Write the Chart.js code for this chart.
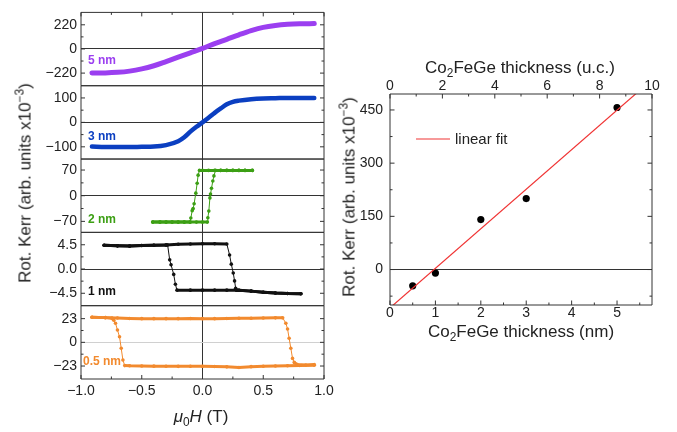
<!DOCTYPE html>
<html>
<head>
<meta charset="utf-8">
<script src="https://cdn.jsdelivr.net/npm/chart.js@4.4.1/dist/chart.umd.min.js"></script>
<style>
  body { margin: 0; background: #fff; }
  #fig { position: relative; width: 677px; height: 432px; font-family: 'Liberation Sans', Arial, sans-serif; color: #222; overflow: hidden; }
  canvas { position: absolute; top: 0; }
  #left { left: 0; }
  #right { left: 340px; }
  .lbl { position: absolute; white-space: nowrap; line-height: 1; transform: translate(-50%, -50%); }
  .vert { transform: translate(-50%, -50%) rotate(-90deg); }
  .title { font-size: 17px; }
  .tag { position: absolute; white-space: nowrap; line-height: 1; font-size: 12px; font-weight: bold; transform: translate(0, -50%); }
  sub, sup { font-size: 70%; line-height: 0; }
</style>
</head>
<body>
<div id="fig">
  <canvas id="left" width="340" height="432"></canvas>
  <canvas id="right" width="337" height="432"></canvas>

  <div class="lbl title vert" style="left:25px; top:183px">Rot. Kerr (arb. units x10<sup>−3</sup>)</div>
  <div class="lbl title" style="left:201px; top:416px"><i>μ</i><sub>0</sub><i>H</i> (T)</div>
  <div class="tag" style="left:88px; top:60px; color:#9b3ff0">5 nm</div>
  <div class="tag" style="left:88px; top:136px; color:#0b3fc1">3 nm</div>
  <div class="tag" style="left:88px; top:219px; color:#3c9f14">2 nm</div>
  <div class="tag" style="left:88px; top:291px; color:#111">1 nm</div>
  <div class="tag" style="left:83px; top:361px; color:#f28a2e">0.5 nm</div>

  <div class="lbl title vert" style="left:349px; top:197px">Rot. Kerr (arb. units x10<sup>−3</sup>)</div>
  <div class="lbl title" style="left:520px; top:67px">Co<sub>2</sub>FeGe thickness (u.c.)</div>
  <div class="lbl title" style="left:521px; top:331px">Co<sub>2</sub>FeGe thickness (nm)</div>
</div>

<script>
// Hysteresis loops, field in tesla, Kerr rotation in 1e-3 arb. units
const field5 = [-0.91, -0.8, -0.7, -0.6, -0.5, -0.4, -0.3, -0.2, -0.1, 0, 0.1, 0.2, 0.3, 0.4, 0.5, 0.6, 0.7, 0.8, 0.92]
const kerr5 = [-219, -218, -213, -202, -182, -153, -115, -75, -35, 5, 48, 88, 129, 167, 197, 214, 224, 229, 231]

const field3 = [-0.91, -0.8, -0.7, -0.6, -0.5, -0.4, -0.3, -0.2, -0.15, -0.1, -0.05, 0, 0.05, 0.1, 0.15, 0.2, 0.25, 0.3, 0.4, 0.5, 0.6, 0.7, 0.8, 0.92]
const kerr3 = [-99, -101, -101, -101, -100, -99, -93, -77, -61, -38, -18, 0, 19, 39, 57, 74, 84, 89, 95, 98, 99, 100, 100, 100]

const field2Down = [0.41, 0.35, 0.3, 0.25, 0.2, 0.15, 0.1, 0.05, 0, -0.025, -0.036, -0.044, -0.055, -0.069, -0.077, -0.085, -0.096, -0.104, -0.15, -0.2, -0.25, -0.3, -0.35, -0.41]
const kerr2Down = [69, 69, 69, 69, 69, 69, 69, 69, 69, 69, 56, 34, 7, -22, -35, -41, -61, -72, -72, -72, -72, -72, -72, -72]
const field2Up = [-0.41, -0.35, -0.3, -0.25, -0.2, -0.15, -0.1, -0.05, 0, 0.04, 0.044, 0.052, 0.061, 0.066, 0.074, 0.085, 0.094, 0.107, 0.15, 0.2, 0.25, 0.3, 0.35, 0.41]
const kerr2Up = [-72, -72, -72, -72, -72, -72, -72, -72, -72, -72, -60, -42, -6, 4.5, 20, 40, 54, 69, 69, 69, 69, 69, 69, 69]

const field1Up = [-0.81, -0.7, -0.6, -0.5, -0.4, -0.3, -0.2, -0.1, 0, 0.1, 0.2, 0.223, 0.237, 0.253, 0.264, 0.273, 0.28, 0.3, 0.4, 0.5, 0.6, 0.7, 0.81]
const kerr1Up = [4.4, 4.3, 4.25, 4.35, 4.4, 4.45, 4.6, 4.65, 4.7, 4.7, 4.65, 2.6, 0.9, -0.73, -2.2, -3.56, -3.95, -3.95, -4.1, -4.3, -4.45, -4.55, -4.6]
const field1Down = [0.81, 0.7, 0.6, 0.5, 0.4, 0.3, 0.2, 0.1, 0, -0.1, -0.21, -0.223, -0.237, -0.259, -0.27, -0.287, -0.3, -0.4, -0.5, -0.6, -0.7, -0.81]
const kerr1Down = [-4.6, -4.55, -4.45, -4.3, -4.1, -3.95, -3.92, -3.92, -3.92, -3.92, -3.92, -2.83, -1.0, 0.8, 1.7, 4.45, 4.45, 4.4, 4.35, 4.25, 4.3, 4.4]

const field05Up = [-0.91, -0.8, -0.7, -0.6, -0.5, -0.4, -0.3, -0.2, -0.1, 0, 0.1, 0.2, 0.3, 0.4, 0.5, 0.6, 0.66, 0.686, 0.7, 0.713, 0.727, 0.741, 0.755, 0.78, 0.85, 0.92]
const kerr05Up = [24.4, 24.0, 23.6, 23.2, 23.0, 23.0, 23.0, 23.0, 23.2, 23.0, 23.0, 23.2, 23.4, 23.4, 23.6, 23.8, 23.8, 18.5, 13, 3.9, -5.8, -15.6, -19.5, -21.5, -22.0, -21.5]
const field05Down = [0.92, 0.8, 0.7, 0.6, 0.5, 0.4, 0.3, 0.2, 0.1, 0, -0.1, -0.2, -0.3, -0.4, -0.5, -0.6, -0.64, -0.655, -0.669, -0.683, -0.7, -0.716, -0.73, -0.745, -0.8, -0.91]
const kerr05Down = [-22.3, -22.5, -22.8, -23.0, -23.2, -23.6, -24.5, -23.8, -23.4, -23.2, -23.2, -23.3, -23.2, -23.1, -23.0, -22.8, -22.6, -17.2, -5.8, 5.5, 12, 18.5, 21.5, 23.5, 24.0, 24.4]

// Saturation Kerr rotation vs film thickness
const thicknessNm = [0.5, 1, 2, 3, 5]
const kerrSat = [-46, -10, 141, 200, 457]

// Major tick values of each axis
const ticks5 = [-220, 0, 220]
const ticks3 = [-100, 0, 100]
const ticks2 = [-70, 0, 70]
const ticks1 = [-4.5, 0, 4.5]
const ticks05 = [-23, 0, 23]
const fieldTicks = [-1, -0.5, 0, 0.5, 1]
const nmTicks = [0, 1, 2, 3, 4, 5]
const ucTicks = [0, 2, 4, 6, 8, 10]
const kerrTicks = [0, 150, 300, 450]

Chart.defaults.font.family = "'Liberation Sans', Arial, sans-serif"
Chart.defaults.font.size = 14
Chart.defaults.color = '#222'

const pts = (xs, ys) => xs.map((x, i) => ({ x: x, y: ys[i] }))
const fmt = dec => v => (v < 0 ? '\u2212' : '') + Math.abs(v).toFixed(dec)

// majors plus half-step minors, skipping minors that would sit on the frame
function tickSet(majors, min, max) {
  const half = (majors[1] - majors[0]) / 2
  const margin = (max - min) * 0.04
  const out = []
  for (let v = majors[0] - half; v <= max; v += half) {
    const value = Math.round(v * 1e4) / 1e4
    const major = majors.some(m => Math.abs(m - value) < 1e-6)
    if (major || (value > min + margin && value < max - margin)) out.push({ value: value, major: major })
  }
  return out
}

// Inward tick marks on every side, plus the frame of each panel
const frameTicks = {
  id: 'frameTicks',
  afterDatasetsDraw(chart, args, opts) {
    const { ctx, chartArea: a } = chart
    const scales = Object.values(chart.scales)
    const hasTop = scales.some(s => s.position === 'top')
    ctx.save()
    ctx.strokeStyle = opts.color
    ctx.lineWidth = 1
    ctx.beginPath()
    const seg = (x0, y0, x1, y1) => { ctx.moveTo(x0, y0); ctx.lineTo(x1, y1) }
    scales.forEach(s => {
      s.ticks.forEach(t => {
        const len = t.major ? opts.major : opts.minor
        const p = s.getPixelForValue(t.value)
        if (s.isHorizontal()) {
          if (s.position === 'top') {
            seg(p, a.top, p, a.top + len)
          } else {
            seg(p, a.bottom, p, a.bottom - len)
            if (!hasTop) seg(p, a.top, p, a.top + len)
          }
        } else {
          seg(a.left, p, a.left + len, p)
          seg(a.right, p, a.right - len, p)
        }
      })
      if (!s.isHorizontal()) ctx.rect(a.left, s.top, a.right - a.left, s.bottom - s.top)
    })
    ctx.stroke()
    ctx.restore()
  }
}

// Small legend drawn inside the plot area
const innerLegend = {
  id: 'innerLegend',
  afterDatasetsDraw(chart, args, opts) {
    const { ctx, chartArea: a } = chart
    chart.data.datasets.filter(d => d.inLegend).forEach(d => {
      const x = a.left + opts.x
      const y = a.top + opts.y
      ctx.save()
      ctx.strokeStyle = d.borderColor
      ctx.lineWidth = d.borderWidth
      ctx.beginPath()
      ctx.moveTo(x, y)
      ctx.lineTo(x + opts.lineLen, y)
      ctx.stroke()
      ctx.fillStyle = '#222'
      ctx.font = opts.font
      ctx.textBaseline = 'middle'
      ctx.fillText(d.label, x + opts.lineLen + opts.gap, y + 1)
      ctx.restore()
    })
  }
}

function yPanel(weight, majors, min, max, dec, zeroColor) {
  return {
    type: 'linear', position: 'left', stack: 'kerr', stackWeight: 1, weight: weight,
    min: min, max: max,
    afterBuildTicks: s => { s.ticks = tickSet(majors, min, max) },
    afterFit: s => { s.width = 81 },
    ticks: { autoSkip: false, padding: 4, callback: (v, i, t) => t[i].major ? fmt(dec)(v) : '' },
    grid: { drawTicks: false, color: c => c.tick && c.tick.value === 0 ? zeroColor : 'transparent' },
    border: { display: false }
  }
}

function smooth(color, width) {
  return { borderColor: color, backgroundColor: color, borderWidth: width, pointRadius: 0,
    borderCapStyle: 'round', cubicInterpolationMode: 'monotone', showLine: true }
}

function loop(color, kerr) {
  const amp = Math.max(...kerr) - Math.min(...kerr)
  return { borderColor: color, backgroundColor: color, borderWidth: 1, pointRadius: 1.8, pointBorderWidth: 0,
    showLine: true,
    segment: { borderWidth: c => Math.abs(c.p1.parsed.y - c.p0.parsed.y) < 0.06 * amp ? 3 : 1 } }
}

new Chart(document.getElementById('left'), {
  type: 'scatter',
  plugins: [frameTicks],
  data: {
    datasets: [
      { data: pts(field5, kerr5), yAxisID: 'y5', ...smooth('#9b3ff0', 5) },
      { data: pts(field3, kerr3), yAxisID: 'y3', ...smooth('#0b3fc1', 4.5) },
      { data: pts(field2Down, kerr2Down), yAxisID: 'y2', ...loop('#3c9f14', kerr2Down) },
      { data: pts(field2Up, kerr2Up), yAxisID: 'y2', ...loop('#3c9f14', kerr2Up) },
      { data: pts(field1Up, kerr1Up), yAxisID: 'y1', ...loop('#111111', kerr1Up) },
      { data: pts(field1Down, kerr1Down), yAxisID: 'y1', ...loop('#111111', kerr1Down) },
      { data: pts(field05Up, kerr05Up), yAxisID: 'y05', ...loop('#f28a2e', kerr05Up) },
      { data: pts(field05Down, kerr05Down), yAxisID: 'y05', ...loop('#f28a2e', kerr05Down) }
    ]
  },
  options: {
    responsive: false,
    animation: false,
    events: [],
    layout: { padding: { left: 0, right: 16, top: 8, bottom: 0 } },
    plugins: { legend: { display: false }, tooltip: { enabled: false },
      frameTicks: { color: '#333', major: 4, minor: 2.5 } },
    scales: {
      x: {
        type: 'linear', position: 'bottom', min: -1, max: 1,
        afterBuildTicks: s => { s.ticks = tickSet(fieldTicks, -1, 1) },
        afterFit: s => { s.height = 53 },
        ticks: { autoSkip: false, padding: 4, maxRotation: 0, callback: (v, i, t) => t[i].major ? fmt(1)(v) : '' },
        grid: { drawTicks: false, color: c => c.tick && c.tick.value === 0 ? '#333' : 'transparent' },
        border: { display: false }
      },
      y05: yPanel(1, ticks05, -35.6, 35.6, 0, '#d0d0d0'),
      y1: yPanel(2, ticks1, -6.8, 6.8, 1, '#333'),
      y2: yPanel(3, ticks2, -100, 100, 0, '#333'),
      y3: yPanel(4, ticks3, -150, 150, 0, '#333'),
      y5: yPanel(5, ticks5, -335, 333, 0, '#333')
    }
  }
})

// least-squares line through the saturation values
const n = thicknessNm.length
const mx = thicknessNm.reduce((s, v) => s + v, 0) / n
const my = kerrSat.reduce((s, v) => s + v, 0) / n
const slope = thicknessNm.reduce((s, v, i) => s + (v - mx) * (kerrSat[i] - my), 0) /
  thicknessNm.reduce((s, v) => s + (v - mx) * (v - mx), 0)
const intercept = my - slope * mx
const nmMax = 5.77

new Chart(document.getElementById('right'), {
  type: 'scatter',
  plugins: [frameTicks, innerLegend],
  data: {
    datasets: [
      { label: 'linear fit', inLegend: true, showLine: true, clip: 0,
        data: [0, nmMax].map(x => ({ x: x, y: slope * x + intercept })),
        borderColor: '#f03434', borderWidth: 1.2, pointRadius: 0 },
      { label: 'data', data: pts(thicknessNm, kerrSat), backgroundColor: '#000', borderWidth: 0, pointRadius: 3.6 }
    ]
  },
  options: {
    responsive: false,
    animation: false,
    events: [],
    layout: { padding: { left: 0, right: 25, top: 0, bottom: 0 } },
    plugins: { legend: { display: false }, tooltip: { enabled: false },
      frameTicks: { color: '#333', major: 4.5, minor: 2.5 },
      innerLegend: { x: 26, y: 45, lineLen: 34, gap: 5, font: "15px 'Liberation Sans', Arial, sans-serif" } },
    scales: {
      x: {
        type: 'linear', position: 'bottom', min: 0, max: nmMax,
        afterBuildTicks: s => { s.ticks = tickSet(nmTicks, 0, nmMax) },
        afterFit: s => { s.height = 127 },
        ticks: { autoSkip: false, padding: 0, maxRotation: 0, callback: (v, i, t) => t[i].major ? fmt(0)(v) : '' },
        grid: { display: false, drawTicks: false },
        border: { display: false }
      },
      x2: {
        type: 'linear', position: 'top', min: 0, max: 10,
        afterBuildTicks: s => { s.ticks = tickSet(ucTicks, 0, 10) },
        afterFit: s => { s.height = 94 },
        ticks: { autoSkip: false, padding: -1, maxRotation: 0, callback: (v, i, t) => t[i].major ? fmt(0)(v) : '' },
        grid: { display: false, drawTicks: false },
        border: { display: false }
      },
      y: {
        type: 'linear', position: 'left', min: -100, max: 495,
        afterBuildTicks: s => { s.ticks = tickSet(kerrTicks, -100, 495) },
        afterFit: s => { s.width = 50 },
        ticks: { autoSkip: false, padding: 7, callback: (v, i, t) => t[i].major ? fmt(0)(v) : '' },
        grid: { drawTicks: false, color: c => c.tick && c.tick.value === 0 ? '#333' : 'transparent' },
        border: { display: false }
      }
    }
  }
})
</script>
</body>
</html>
